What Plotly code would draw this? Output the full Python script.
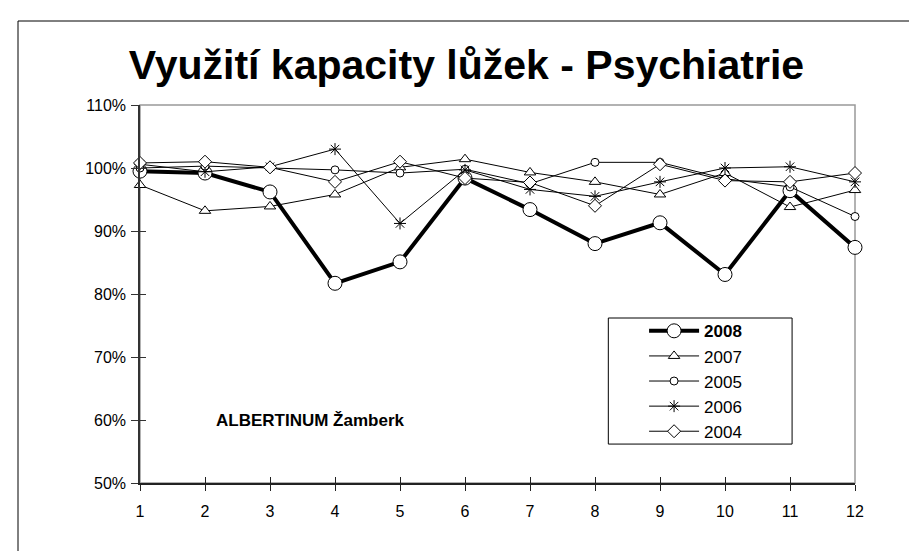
import plotly.graph_objects as go

months = [1, 2, 3, 4, 5, 6, 7, 8, 9, 10, 11, 12]
y2008 = [0.995, 0.992, 0.962, 0.817, 0.851, 0.984, 0.934, 0.880, 0.913, 0.831, 0.964, 0.874]
y2007 = [0.973, 0.932, 0.939, 0.958, 1.001, 1.014, 0.993, 0.978, 0.958, 0.992, 0.938, 0.965]
y2005 = [1.000, 1.003, 1.000, 0.997, 0.992, 0.998, 0.975, 1.009, 1.009, 0.983, 0.970, 0.923]
y2006 = [1.006, 0.994, 1.002, 1.030, 0.912, 0.997, 0.966, 0.955, 0.978, 1.000, 1.002, 0.978]
y2004 = [1.008, 1.010, 1.001, 0.978, 1.010, 0.984, 0.977, 0.940, 1.006, 0.980, 0.978, 0.992]
ytick_vals = [0.5, 0.6, 0.7, 0.8, 0.9, 1.0, 1.1]
ytick_text = ["50%", "60%", "70%", "80%", "90%", "100%", "110%"]

FONT = "Liberation Sans, Arial, sans-serif"

fig = go.Figure()

fig.add_trace(go.Scatter(
    x=months, y=y2008, name="<b>2008</b>", mode="lines+markers",
    line=dict(color="black", width=4),
    marker=dict(symbol="circle", size=14, color="white", line=dict(color="black", width=1)),
    cliponaxis=False))
fig.add_trace(go.Scatter(
    x=months, y=y2007, name="2007", mode="lines+markers",
    line=dict(color="black", width=1),
    marker=dict(symbol="triangle-up", size=10, color="white", line=dict(color="black", width=1)),
    cliponaxis=False))
fig.add_trace(go.Scatter(
    x=months, y=y2005, name="2005", mode="lines+markers",
    line=dict(color="black", width=1),
    marker=dict(symbol="circle", size=8, color="white", line=dict(color="black", width=1)),
    cliponaxis=False))
fig.add_trace(go.Scatter(
    x=months, y=y2006, name="2006", mode="lines+markers",
    line=dict(color="black", width=1),
    marker=dict(symbol="asterisk-open", size=10, color="black", line=dict(color="black", width=1)),
    cliponaxis=False))
fig.add_trace(go.Scatter(
    x=months, y=y2004, name="2004", mode="lines+markers",
    line=dict(color="black", width=1),
    marker=dict(symbol="diamond", size=10, color="white", line=dict(color="black", width=1)),
    cliponaxis=False))

# helper trace for overlay axes (inside tick marks)
fig.add_trace(go.Scatter(x=[], y=[], xaxis="x2", yaxis="y2", showlegend=False, hoverinfo="skip"))

fig.update_layout(
    width=917, height=551,
    margin=dict(l=132, r=70, t=97, b=76),
    paper_bgcolor="white", plot_bgcolor="white",
    font=dict(family=FONT, size=16, color="black"),
    title=dict(text="<b>Využití kapacity lůžek - Psychiatrie</b>",
               x=0.5, xanchor="center", y=1 - 57 / 551, yanchor="middle",
               font=dict(family=FONT, size=41, color="black")),
    showlegend=True,
    legend=dict(x=0.705, y=0.449, xanchor="left", yanchor="top",
                borderwidth=0, bgcolor="rgba(0,0,0,0)",
                font=dict(family=FONT, size=17, color="black"),
                tracegroupgap=0, itemwidth=50),
    xaxis=dict(range=[1, 12], tickmode="array", tickvals=months,
               ticktext=[str(m) for m in months],
               showgrid=False, zeroline=False,
               showline=True, linecolor="#222", linewidth=2,
               ticks="outside", ticklen=6, tickcolor="#222", tickwidth=1,
               ticklabelstandoff=7,
               tickfont=dict(family=FONT, size=16, color="black"), fixedrange=True),
    yaxis=dict(range=[0.5, 1.1], tickmode="array", tickvals=ytick_vals,
               ticktext=ytick_text, showgrid=False, zeroline=False,
               showline=True, linecolor="#333", linewidth=1.5,
               ticks="outside", ticklen=7, tickcolor="#333", tickwidth=1,
               ticklabelstandoff=2,
               tickfont=dict(family=FONT, size=16, color="black"), fixedrange=True),
    xaxis2=dict(range=[1, 12], overlaying="x", anchor="y", side="bottom",
                tickmode="array", tickvals=months, showticklabels=False,
                showgrid=False, zeroline=False, showline=False,
                ticks="inside", ticklen=6, tickcolor="#222", tickwidth=1),
    yaxis2=dict(range=[0.5, 1.1], overlaying="y", anchor="x", side="left",
                tickmode="array", tickvals=ytick_vals, showticklabels=False,
                showgrid=False, zeroline=False, showline=False,
                ticks="inside", ticklen=6, tickcolor="#333", tickwidth=1),
    annotations=[dict(text="<b>ALBERTINUM Žamberk</b>", x=3.62, y=0.60,
                      xref="x", yref="y", showarrow=False,
                      font=dict(family=FONT, size=17, color="black"))],
    shapes=[
        # plot area border (gray top/right)
        dict(type="rect", xref="paper", yref="paper", x0=0, x1=1, y0=0, y1=1,
             line=dict(color="#999", width=1.5), layer="below"),
        # legend box
        dict(type="rect", xref="paper", yref="paper",
             x0=0.655, x1=0.912, y0=0.103, y1=0.4365,
             line=dict(color="black", width=1), fillcolor="white", layer="above"),
        # outer chart border
        dict(type="rect", xref="paper", yref="paper",
             x0=(10 - 132) / 715, x1=(911 - 132) / 715,
             y0=(475 - 560) / 378, y1=(475 - 13) / 378,
             line=dict(color="black", width=1)),
    ],
)

fig.write_html("out.html")
